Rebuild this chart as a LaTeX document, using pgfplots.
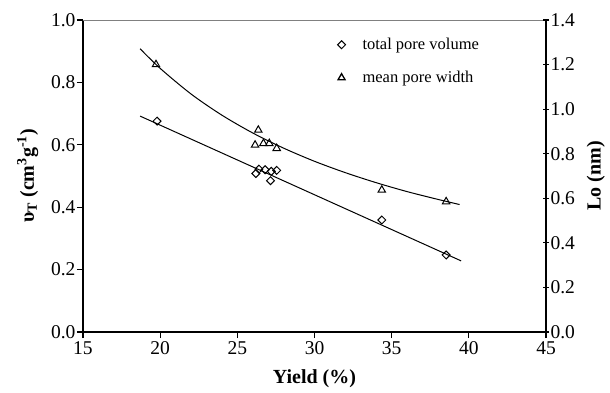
\documentclass[border=0pt]{standalone}
\usepackage{fontspec}
\setmainfont{Liberation Serif}
\usepackage{pgfplots}
\pgfplotsset{compat=1.18}
\usetikzlibrary{calc}
\begin{document}
\begin{tikzpicture}
\pgfplotsset{
  common/.style={
    scale only axis, width=463pt, height=312pt,
    xmin=15, xmax=45,
    /pgf/number format/assume math mode=true,
    ticklabel style={font=\fontsize{19.5}{19.5}\selectfont},
    axis line style={-, line width=1.3pt, black},
    major tick length=6pt,
    every tick/.style={black, line width=1.2pt},
    yticklabel style={/pgf/number format/fixed, /pgf/number format/fixed zerofill, /pgf/number format/precision=1},
    label style={font=\fontsize{20}{20}\selectfont\bfseries},
  }
}
\begin{axis}[common,
  ymin=0, ymax=1,
  axis x line*=bottom, axis y line*=left,
  xtick={15,20,...,45}, ytick={0,0.2,0.4,0.6,0.8,1.0},
  tick align=outside,
  xticklabel style={yshift=0pt},
  yticklabel style={xshift=2pt},
  xlabel={Yield (\%)},
  ylabel={υ\textsubscript{T} (cm\textsuperscript{3}g\textsuperscript{-1})},
  ylabel style={yshift=6pt},
  xlabel style={yshift=-8pt},
  legend style={at={(rel axis cs:0.543,0.955)}, anchor=north west, draw=none, fill=none,
    font=\fontsize{16.5}{16.5}\selectfont, row sep=16pt},
  legend cell align=left,
]
\draw[gray, line width=0.7pt] (rel axis cs:0,1) -- (rel axis cs:1,1);
\coordinate (O) at (rel axis cs:0,0);
\addplot[only marks, mark=square, mark size=2.8pt, mark options={rotate=45, fill=white, line width=1pt}] coordinates {
(19.8,0.676) (26.2,0.508) (26.4,0.522) (26.8,0.520) (27.2,0.515) (27.55,0.518) (27.15,0.485) (34.36,0.359) (38.53,0.247)};
\addlegendentry{\hspace{15pt}total pore volume}
\addplot[forget plot, black, line width=1pt] coordinates {(18.7,0.692) (39.5,0.228)};
\addlegendimage{only marks, mark=triangle, mark size=4pt, mark options={line width=1.3pt}}
\addlegendentry{\hspace{15pt}mean pore width}
\end{axis}
\begin{axis}[common,
  ymin=0, ymax=1.4,
  axis y line*=right, axis x line=none,
  ytick={0,0.2,0.4,0.6,0.8,1.0,1.2,1.4},
  tick align=center,
  yticklabel style={xshift=-2pt},
  ylabel={Lo (nm)},
  ylabel style={yshift=-5pt},
]
\addplot[black, line width=1pt, smooth] coordinates {
(18.7,1.271) (20,1.183) (22,1.068) (24,0.973) (26,0.893) (28,0.825) (30,0.766) (32,0.715) (34,0.670) (36,0.630) (38,0.595) (39.4,0.572)};
\addplot[only marks, mark=triangle, mark size=4.3pt, mark options={fill=white, line width=1pt}] coordinates {
(19.73,1.20) (26.36,0.906) (26.15,0.839) (26.69,0.846) (27.07,0.846) (27.55,0.824) (34.36,0.637) (38.53,0.585)};
\end{axis}
\path[use as bounding box] ($(O)+(-83pt,-60pt)$) rectangle ($(O)+(527pt,332pt)$);
\end{tikzpicture}
\end{document}
